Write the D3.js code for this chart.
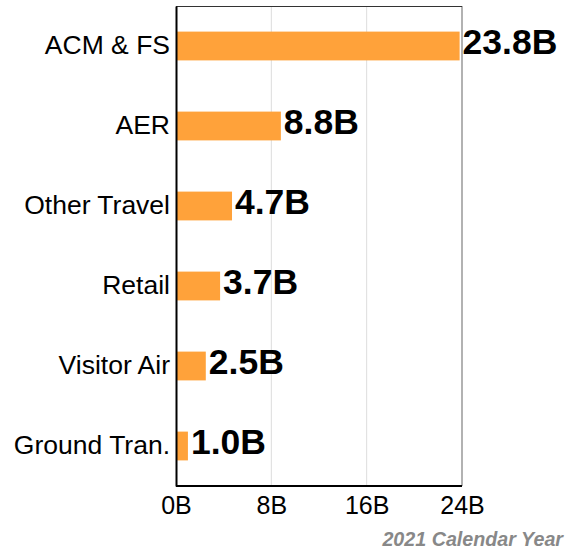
<!DOCTYPE html>
<html>
<head>
<meta charset="utf-8">
<script src="https://cdn.jsdelivr.net/npm/d3@7"></script>
<style>
  body { margin: 0; background: #fff; }
  svg { font-family: "Liberation Sans", Arial, sans-serif; }
</style>
</head>
<body>
<div id="chart"></div>
<script>
// Chart data
const categories = ['ACM & FS', 'AER', 'Other Travel', 'Retail', 'Visitor Air', 'Ground Tran.'];
const values = [23.8, 8.8, 4.7, 3.7, 2.5, 1.0];
const tickValues = [0, 8, 16, 24];

const width = 567;
const height = 550;
const margin = { top: 6, right: 105, bottom: 64, left: 176 };
const fontFamily = '"Liberation Sans", Arial, sans-serif';

const svg = d3.select('#chart')
    .append('svg')
    .attr('width', width)
    .attr('height', height);

const x = d3.scaleLinear()
    .domain([0, 24])
    .range([margin.left, width - margin.right]);

const y = d3.scaleBand()
    .domain(categories)
    .range([margin.top, height - margin.bottom])
    .paddingInner(0.64)
    .paddingOuter(0.32);

// Gridlines
svg.append('g')
    .selectAll('line')
    .data(tickValues.slice(1))
    .enter()
    .append('line')
    .attr('x1', d => x(d))
    .attr('x2', d => x(d))
    .attr('y1', margin.top)
    .attr('y2', height - margin.bottom)
    .attr('stroke', d => d === 24 ? '#999' : '#ddd')
    .attr('stroke-width', d => d === 24 ? 1.5 : 1);

// Top border
svg.append('line')
    .attr('x1', x(0))
    .attr('x2', x(24))
    .attr('y1', margin.top + 0.5)
    .attr('y2', margin.top + 0.5)
    .attr('stroke', '#333')
    .attr('stroke-width', 1);

const data = categories.map((c, i) => ({ cat: c, val: values[i] }));

// Bars
svg.selectAll('.bar')
    .data(data)
    .enter()
    .append('rect')
    .attr('class', 'bar')
    .attr('x', x(0))
    .attr('y', d => y(d.cat))
    .attr('width', d => x(d.val) - x(0))
    .attr('height', y.bandwidth())
    .attr('fill', '#ffa23a');

// Value labels
svg.selectAll('.val')
    .data(data)
    .enter()
    .append('text')
    .attr('class', 'val')
    .attr('x', d => x(d.val) + 3)
    .attr('y', d => y(d.cat) + y.bandwidth() / 2 + 8)
    .attr('font-size', 35.5)
    .attr('font-weight', 'bold')
    .attr('fill', '#000')
    .text(d => d.val.toFixed(1) + 'B');

// Y axis
const yAxis = svg.append('g')
    .attr('transform', `translate(${margin.left}, 0)`)
    .call(d3.axisLeft(y).tickSize(0).tickPadding(6));
yAxis.select('.domain').attr('stroke', '#000').attr('stroke-width', 2);
yAxis.selectAll('text').attr('font-size', 26.5).attr('fill', '#000')
    .attr('font-family', fontFamily);

// X axis
const xAxis = svg.append('g')
    .attr('transform', `translate(0, ${height - margin.bottom})`)
    .call(d3.axisBottom(x).tickValues(tickValues).tickSize(0).tickPadding(10).tickFormat(d => d + 'B'));
xAxis.select('.domain').attr('stroke', '#000').attr('stroke-width', 2)
    .attr('d', `M${x(0)},0H${x(24)}`);
xAxis.selectAll('text').attr('font-size', 25).attr('fill', '#000')
    .attr('font-family', fontFamily)
    .attr('dy', null)
    .attr('y', 28);

// Footer note
svg.append('text')
    .attr('x', 563)
    .attr('y', 546)
    .attr('text-anchor', 'end')
    .attr('font-size', 19.7)
    .attr('font-weight', 'bold')
    .attr('font-style', 'italic')
    .attr('fill', '#888')
    .text('2021 Calendar Year');
</script>
</body>
</html>
